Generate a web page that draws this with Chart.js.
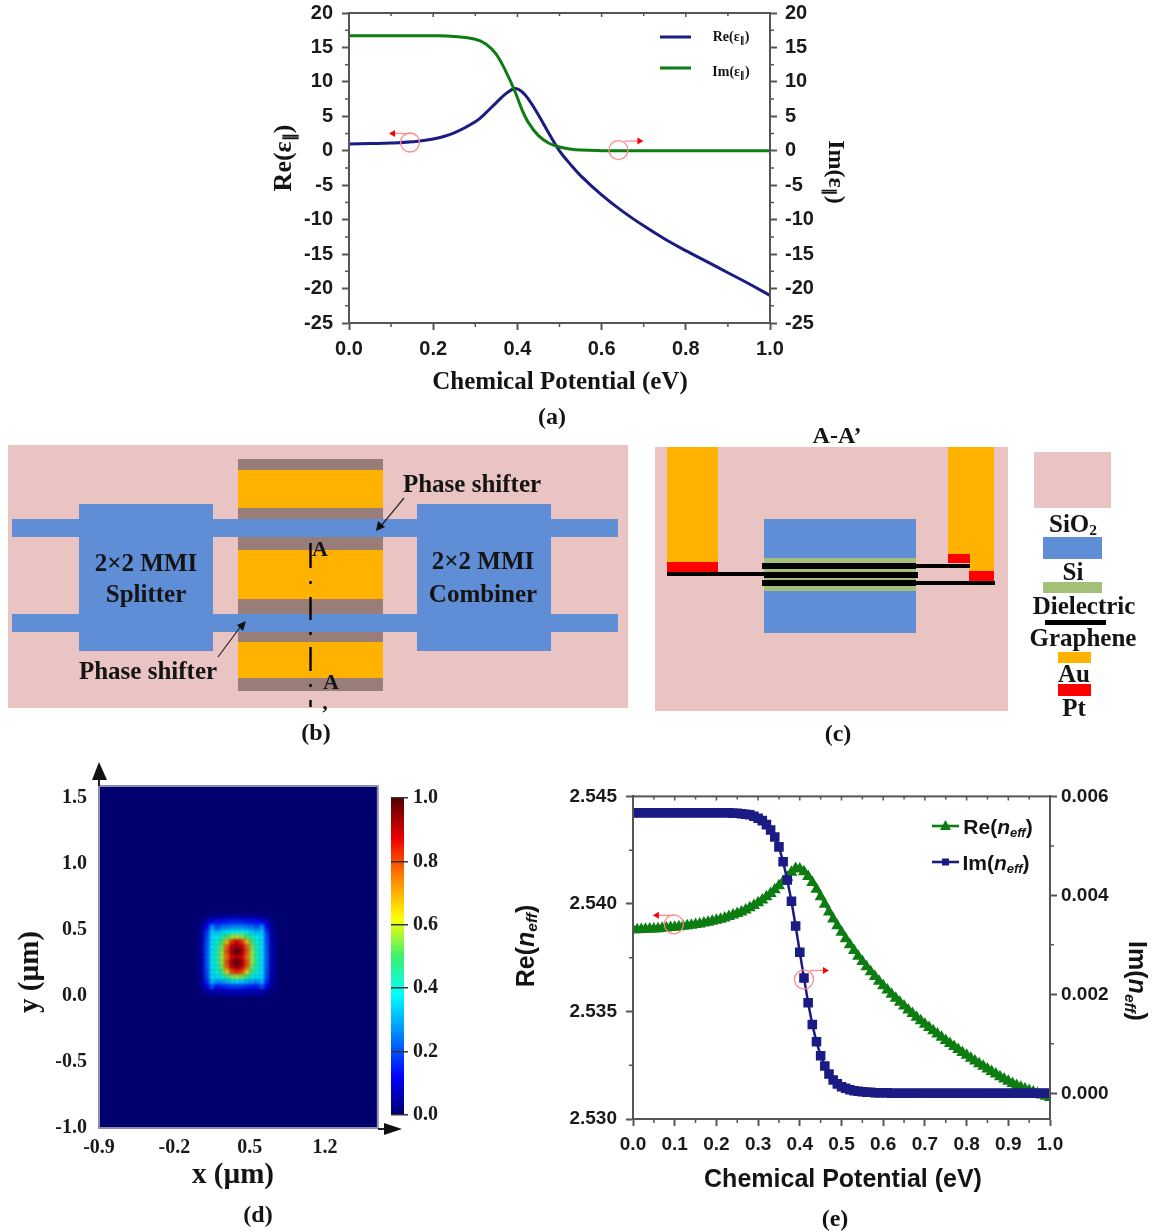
<!DOCTYPE html>
<html>
<head>
<meta charset="utf-8">
<title>Graphene phase shifter</title>
<script src="https://cdn.jsdelivr.net/npm/chart.js@4/dist/chart.umd.min.js"></script>
<style>
  html, body { margin: 0; padding: 0; background: #fff; }
  #stage { position: relative; width: 1156px; height: 1232px; overflow: hidden; }
  #stage canvas, #stage svg, .box, .txt { position: absolute; }
  .txt { white-space: nowrap; color: #141414; transform: translate(-50%, -50%); line-height: 1; }
  .serif { font-family: "Liberation Serif", serif; font-weight: bold; }
  .sans { font-family: "Liberation Sans", sans-serif; font-weight: bold; }
  .txt sub { font-size: 0.62em; vertical-align: -0.25em; line-height: 0; }
</style>
</head>
<body>
<div id="stage"></div>
<script>
// panel (a): permittivity against chemical potential
const potentialA = [0, 0.05, 0.1, 0.15, 0.2, 0.25, 0.3, 0.325, 0.35, 0.375, 0.395, 0.41, 0.425, 0.45, 0.475, 0.5, 0.525, 0.55, 0.6, 0.65, 0.7, 0.75, 0.8, 0.85, 0.9, 0.95, 1];
const rePermittivity = [1.0, 1.05, 1.12, 1.3, 1.7, 2.6, 4.2, 5.5, 7.0, 8.4, 9.05, 8.6, 7.6, 5.2, 2.5, 0, -1.9, -3.6, -6.4, -8.8, -10.9, -12.8, -14.5, -16.1, -17.7, -19.3, -21];
const imPermittivity = [16.7, 16.7, 16.7, 16.7, 16.7, 16.6, 16.2, 15.5, 14, 11.2, 8.5, 6.1, 4.2, 2.2, 1.1, 0.55, 0.25, 0.1, 0.02, 0, 0, 0, 0, 0, 0, 0, 0];
const ticksAX = [0, 0.2, 0.4, 0.6, 0.8, 1];
const ticksAY = [-25, -20, -15, -10, -5, 0, 5, 10, 15, 20];
const minorAX = [0.1, 0.3, 0.5, 0.7, 0.9];
const minorAY = [-22.5, -17.5, -12.5, -7.5, -2.5, 2.5, 7.5, 12.5, 17.5];

// panel (e): effective index, one marker each 0.01 eV
const potentialE = [0, 0.01, 0.02, 0.03, 0.04, 0.05, 0.06, 0.07, 0.08, 0.09, 0.1, 0.11, 0.12, 0.13, 0.14, 0.15, 0.16, 0.17, 0.18, 0.19, 0.2, 0.21, 0.22, 0.23, 0.24, 0.25, 0.26, 0.27, 0.28, 0.29, 0.3, 0.31, 0.32, 0.33, 0.34, 0.35, 0.36, 0.37, 0.38, 0.39, 0.4, 0.41, 0.42, 0.43, 0.44, 0.45, 0.46, 0.47, 0.48, 0.49, 0.5, 0.51, 0.52, 0.53, 0.54, 0.55, 0.56, 0.57, 0.58, 0.59, 0.6, 0.61, 0.62, 0.63, 0.64, 0.65, 0.66, 0.67, 0.68, 0.69, 0.7, 0.71, 0.72, 0.73, 0.74, 0.75, 0.76, 0.77, 0.78, 0.79, 0.8, 0.81, 0.82, 0.83, 0.84, 0.85, 0.86, 0.87, 0.88, 0.89, 0.9, 0.91, 0.92, 0.93, 0.94, 0.95, 0.96, 0.97, 0.98, 0.99, 1];
const reIndex = [2.5388, 2.5388, 2.53881, 2.53882, 2.53883, 2.53884, 2.53885, 2.53887, 2.53888, 2.5389, 2.53892,
  2.53894, 2.53896, 2.53898, 2.53901, 2.53904, 2.53907, 2.53911, 2.53915, 2.53919, 2.53924,
  2.53929, 2.53935, 2.53941, 2.53948, 2.53955, 2.53963, 2.53972, 2.53982, 2.53993, 2.54005,
  2.54018, 2.54033, 2.54049, 2.54066, 2.54085, 2.54104,
  2.54124, 2.54147, 2.54165, 2.54163, 2.5415, 2.54128, 2.541, 2.54068, 2.54033, 2.53998, 2.53963, 2.5393, 2.53898, 2.53868,
  2.53838, 2.5381, 2.53783, 2.53757, 2.53732, 2.53708, 2.53685, 2.53663, 2.53641, 2.5362,
  2.536, 2.5358, 2.53561, 2.53543, 2.53525, 2.53507, 2.5349, 2.53473, 2.53457, 2.53441,
  2.53425, 2.5341, 2.53395, 2.5338, 2.53365, 2.53351, 2.53337, 2.53323, 2.53309, 2.53296,
  2.53283, 2.5327, 2.53257, 2.53245, 2.53233, 2.53221, 2.53209, 2.53197, 2.53186, 2.53175,
  2.53165, 2.53156, 2.53148, 2.5314, 2.53132, 2.53125, 2.53118, 2.53112, 2.53106, 2.531];
const imIndex = [0.00567, 0.00567, 0.00567, 0.00567, 0.00567, 0.00567, 0.00567, 0.00567, 0.00567, 0.00567, 0.00567, 0.00567, 0.00567, 0.00567, 0.00567, 0.00567, 0.00567, 0.00567, 0.00567, 0.00567, 0.00567, 0.00567, 0.00567, 0.00567, 0.00566, 0.00566, 0.00565, 0.00564, 0.00563, 0.0056, 0.00556, 0.00551, 0.00543, 0.00532, 0.00518, 0.00498, 0.00468, 0.00431, 0.00388, 0.00338, 0.00285, 0.00233, 0.00183, 0.00139, 0.00104, 0.00076, 0.00055, 0.00039, 0.00027, 0.00019, 0.00013, 0.0001, 0.00007, 0.00005, 0.00004, 0.00003, 0.00002, 0.00002, 0.00001, 0.00001, 0.00001, 0.00001, 0, 0, 0, 0, 0, 0, 0, 0, 0, 0, 0, 0, 0, 0, 0, 0, 0, 0, 0, 0, 0, 0, 0, 0, 0, 0, 0, 0, 0, 0, 0, 0, 0, 0, 0, 0, 0, 0, 0];
const ticksEX = [0, 0.1, 0.2, 0.3, 0.4, 0.5, 0.6, 0.7, 0.8, 0.9, 1];
const ticksEY = [2.53, 2.535, 2.54, 2.545];
const ticksEY2 = [0, 0.002, 0.004, 0.006];
const minorEX = [0.05, 0.15, 0.25, 0.35, 0.45, 0.55, 0.65, 0.75, 0.85, 0.95];
const minorEY = [2.5325, 2.5375, 2.5425];
const minorEY2 = [0.001, 0.003, 0.005];

// panel (d): mode field, only the part around the waveguide, rest of the plot is ~0
const fieldX = [0.06, 0.106, 0.153, 0.199, 0.246, 0.292, 0.339, 0.385, 0.432, 0.478, 0.525, 0.571, 0.618, 0.664, 0.711];
const fieldY = [0.594, 0.556, 0.518, 0.48, 0.443, 0.405, 0.367, 0.329, 0.291, 0.254, 0.216, 0.178, 0.14, 0.102, 0.065, 0.027];
const fieldRows = [
  [.01, .02, .03, .04, .04, .05, .05, .05, .05, .05, .04, .04, .03, .02, .01],
  [.02, .06, .12, .14, .14, .15, .16, .16, .16, .15, .14, .14, .12, .06, .02],
  [.03, .12, .28, .20, .24, .25, .27, .27, .27, .25, .24, .20, .28, .12, .03],
  [.04, .17, .34, .31, .34, .37, .39, .39, .39, .37, .34, .31, .34, .17, .04],
  [.04, .19, .36, .38, .44, .50, .56, .58, .56, .50, .44, .38, .36, .19, .04],
  [.05, .20, .36, .41, .50, .68, .82, .88, .82, .68, .50, .41, .36, .20, .05],
  [.05, .21, .37, .43, .54, .78, .90, .94, .90, .78, .54, .43, .37, .21, .05],
  [.05, .21, .37, .44, .56, .80, .92, 1.0, .92, .80, .56, .44, .37, .21, .05],
  [.05, .21, .37, .44, .56, .76, .88, .90, .88, .76, .56, .44, .37, .21, .05],
  [.05, .21, .37, .44, .56, .80, .92, 1.0, .92, .80, .56, .44, .37, .21, .05],
  [.05, .21, .37, .43, .54, .78, .90, .94, .90, .78, .54, .43, .37, .21, .05],
  [.05, .20, .36, .41, .48, .66, .80, .84, .80, .66, .48, .41, .36, .20, .05],
  [.04, .19, .36, .36, .41, .47, .54, .56, .54, .47, .41, .36, .36, .19, .04],
  [.04, .16, .32, .27, .29, .31, .34, .35, .34, .31, .29, .27, .32, .16, .04],
  [.03, .10, .21, .14, .15, .16, .18, .18, .18, .16, .15, .14, .21, .10, .03],
  [.01, .03, .05, .05, .05, .06, .06, .06, .06, .06, .05, .05, .05, .03, .01]
];
const ticksDX = [-0.9, -0.2, 0.5, 1.2];
const ticksDY = [-1, -0.5, 0, 0.5, 1, 1.5];
const colorbarTop = [1];
const ticksBar = [0, 0.2, 0.4, 0.6, 0.8, 1];
const jetLevels = [0, 0.12, 0.25, 0.38, 0.5, 0.62, 0.75, 0.87, 1];
const jetColors = [[0, 0, 110], [0, 0, 255], [0, 130, 255], [0, 255, 255], [60, 240, 110], [255, 255, 0], [255, 130, 0], [240, 0, 0], [85, 0, 0]];

const stage = document.getElementById('stage');
const BLUE = '#1b1b84', GREEN = '#0d7d12', AXIS = '#555';
const PINK = '#eac3c3', SI = '#608ed6', GOLD = '#ffb300', BROWN = '#987d79', DIEL = '#a3bf78', PT = '#ff0000';

function colorAt(v) {  // jet colour of a field value
  let i = 0;
  while (i < jetLevels.length - 2 && v > jetLevels[i + 1]) i++;
  const t = Math.min(1, (v - jetLevels[i]) / (jetLevels[i + 1] - jetLevels[i]));
  const c = jetColors[i].map((a, k) => Math.round(a + (jetColors[i + 1][k] - a) * t));
  return 'rgb(' + c.join(',') + ')';
}

function addCanvas(left, top, width, height) {
  const c = document.createElement('canvas');
  c.width = width; c.height = height;
  c.style.left = left + 'px'; c.style.top = top + 'px';
  c.style.width = width + 'px'; c.style.height = height + 'px';
  stage.appendChild(c);
  return c;
}

function box(x0, y0, x1, y1, color) {
  const d = document.createElement('div');
  d.className = 'box';
  d.style.cssText = 'left:' + x0 + 'px;top:' + y0 + 'px;width:' + (x1 - x0) + 'px;height:' + (y1 - y0) + 'px;background:' + color;
  stage.appendChild(d);
}

function label(html, cx, cy, cls, size, rotate) {
  const d = document.createElement('div');
  d.className = 'txt ' + cls;
  d.innerHTML = html;
  d.style.left = cx + 'px'; d.style.top = cy + 'px'; d.style.fontSize = size + 'px';
  if (rotate) d.style.transform = 'translate(-50%, -50%) rotate(' + rotate + 'deg)';
  stage.appendChild(d);
}

// frame, minor ticks and the red "which axis" callouts
const panelExtras = {
  id: 'panelExtras',
  beforeDatasetsDraw(chart, args, opts) {
    if (!opts.fill) return;
    const a = chart.chartArea;
    chart.ctx.fillStyle = opts.fill;
    chart.ctx.fillRect(a.left, a.top, a.width, a.height);
  },
  afterDatasetsDraw(chart, args, opts) {
    const ctx = chart.ctx, a = chart.chartArea;
    ctx.save();
    if (opts.frame) {
      ctx.strokeStyle = opts.frame; ctx.lineWidth = 2;
      ctx.strokeRect(a.left, a.top, a.width, a.height);
    }
    ctx.strokeStyle = AXIS; ctx.lineWidth = 1.5;
    ctx.beginPath();
    (opts.minorX || []).forEach(v => {
      const x = chart.scales.x.getPixelForValue(v);
      ctx.moveTo(x, a.bottom); ctx.lineTo(x, a.bottom + 4);
      ctx.moveTo(x, a.top); ctx.lineTo(x, a.top + 3);
    });
    (opts.topX || []).forEach(v => {
      const x = chart.scales.x.getPixelForValue(v);
      ctx.moveTo(x, a.top); ctx.lineTo(x, a.top + 4);
    });
    (opts.minorY || []).forEach(v => {
      const y = chart.scales.y.getPixelForValue(v);
      ctx.moveTo(a.left, y); ctx.lineTo(a.left - 4, y);
    });
    (opts.minorY2 || []).forEach(v => {
      const y = chart.scales.y2.getPixelForValue(v);
      ctx.moveTo(a.right, y); ctx.lineTo(a.right + 4, y);
    });
    ctx.stroke();
    (opts.callouts || []).forEach(c => {
      const x = chart.scales.x.getPixelForValue(c.x), y = chart.scales[c.axis].getPixelForValue(c.y);
      ctx.strokeStyle = '#ff8a8a'; ctx.lineWidth = 1.3;
      ctx.beginPath(); ctx.arc(x, y, 9.5, 0, Math.PI * 2); ctx.stroke();
      const y0 = y - 9, tip = x + c.dir * (c.dir > 0 ? 23 : 19);
      ctx.beginPath(); ctx.moveTo(x + (c.dir > 0 ? 6 : 0), y0); ctx.lineTo(tip, y0); ctx.stroke();
      ctx.fillStyle = '#f00';
      ctx.beginPath(); ctx.moveTo(tip + c.dir * 2, y0); ctx.lineTo(tip - c.dir * 4, y0 - 3.5); ctx.lineTo(tip - c.dir * 4, y0 + 3.5); ctx.fill();
    });
    ctx.restore();
  }
};

// the field map in the reference is smooth, soften the cells while they are drawn
const softCells = {
  id: 'softCells',
  beforeDatasetDraw(chart) { chart.ctx.save(); chart.ctx.filter = 'blur(1.6px)'; },
  afterDatasetDraw(chart) { chart.ctx.restore(); }
};

function axis(position, min, max, tickList, digits, size, padding, extra) {
  return Object.assign({
    type: 'linear', position: position, min: min, max: max,
    afterBuildTicks: s => { s.ticks = tickList.map(v => ({ value: v })); },
    ticks: {
      autoSkip: false, maxRotation: 0, padding: padding, color: '#1a1a1a',
      font: { family: 'Liberation Sans', weight: 'bold', size: size },
      callback: v => digits ? Number(v).toFixed(digits) : String(v)
    },
    grid: { drawOnChartArea: false, tickLength: 7, tickWidth: 2, tickColor: AXIS },
    border: { color: AXIS, width: 2 }
  }, extra);
}

const baseOptions = { responsive: false, animation: false, events: [] };

// ---- panel (a)
// the y scale keeps label height + tick padding free on top, so the canvas starts above the page edge
new Chart(addCanvas(289, -8, 541, 378), {
  type: 'line',
  data: {
    labels: potentialA,
    datasets: [
      { label: 'Im', data: potentialA.map((x, i) => ({ x: x, y: imPermittivity[i] })), yAxisID: 'y2', borderColor: GREEN, borderWidth: 3, pointRadius: 0, tension: 0.4 },
      { label: 'Re', data: potentialA.map((x, i) => ({ x: x, y: rePermittivity[i] })), yAxisID: 'y', borderColor: BLUE, borderWidth: 3, pointRadius: 0, tension: 0.4 }
    ]
  },
  options: Object.assign({}, baseOptions, {
    plugins: {
      legend: { display: false }, tooltip: { enabled: false },
      panelExtras: {
        frame: AXIS, minorX: minorAX, topX: ticksAX, minorY: minorAY, minorY2: minorAY,
        callouts: [{ x: 0.145, y: 1.2, axis: 'y', dir: -1 }, { x: 0.64, y: 0.1, axis: 'y2', dir: 1 }]
      }
    },
    scales: {
      x: axis('bottom', 0, 1, ticksAX, 1, 20, 7, { afterFit: s => { s.height = 47; } }),
      y: axis('left', -25, 20, ticksAY, 0, 20, 9, { afterFit: s => { s.width = 60; } }),
      y2: axis('right', -25, 20, ticksAY, 0, 20, 8, { afterFit: s => { s.width = 60; } })
    }
  }),
  plugins: [panelExtras]
});

// ---- panel (e)
new Chart(addCanvas(563, 776, 567, 384), {
  type: 'line',
  data: {
    labels: potentialE,
    datasets: [
      { label: 'Im', data: potentialE.map((x, i) => ({ x: x, y: imIndex[i] })), yAxisID: 'y2', borderColor: BLUE, backgroundColor: BLUE, borderWidth: 2.5, pointStyle: 'rect', pointRadius: 5, tension: 0 },
      { label: 'Re', data: potentialE.map((x, i) => ({ x: x, y: reIndex[i] })), yAxisID: 'y', borderColor: GREEN, backgroundColor: GREEN, borderWidth: 2, pointStyle: 'triangle', pointRadius: 5, tension: 0 }
    ]
  },
  options: Object.assign({}, baseOptions, {
    plugins: {
      legend: { display: false }, tooltip: { enabled: false },
      panelExtras: {
        frame: AXIS, minorX: minorEX, topX: ticksEX, minorY: minorEY, minorY2: minorEY2,
        callouts: [{ x: 0.098, y: 2.53905, axis: 'y', dir: -1 }, { x: 0.41, y: 0.0023, axis: 'y2', dir: 1 }]
      }
    },
    scales: {
      x: axis('bottom', 0, 1, ticksEX, 1, 19, 7, { afterFit: s => { s.height = 41; } }),
      y: axis('left', 2.53, 2.545, ticksEY, 3, 19, 9, { afterFit: s => { s.width = 70; } }),
      y2: axis('right', -0.00052, 0.006, ticksEY2, 3, 19, 4, { afterFit: s => { s.width = 80; } })
    }
  }),
  plugins: [panelExtras]
});

// ---- panel (d) field map
const cells = [], cellColors = [];
fieldRows.forEach((row, r) => row.forEach((v, c) => {
  cells.push({ x: fieldX[c], y: fieldY[r] });
  cellColors.push(colorAt(v));
}));
const serifTicks = { family: 'Liberation Serif', weight: 'bold', size: 20 };
new Chart(addCanvas(39, 762, 343, 408), {
  type: 'scatter',
  data: { datasets: [{ data: cells, pointStyle: 'rect', pointRadius: 4.2, pointBorderWidth: 0, pointBackgroundColor: cellColors }] },
  options: Object.assign({}, baseOptions, {
    layout: { padding: { right: 1 } },
    plugins: {
      legend: { display: false }, tooltip: { enabled: false },
      panelExtras: { fill: '#00006e', frame: '#8e8eb4' }
    },
    scales: {
      x: axis('bottom', -0.9, 1.69, ticksDX, 1, 20, 9, {
        afterFit: s => { s.height = 42; },
        ticks: { autoSkip: false, maxRotation: 0, padding: 8, color: '#1a1a1a', font: serifTicks, callback: v => Number(v).toFixed(1) },
        grid: { display: true, drawOnChartArea: false, drawTicks: false },
        border: { color: '#222', width: 2 }
      }),
      y: axis('left', -1, 1.59, ticksDY, 1, 20, 12, {
        afterFit: s => { s.width = 60; },
        ticks: { autoSkip: false, maxRotation: 0, padding: 12, color: '#1a1a1a', font: serifTicks, callback: v => Number(v).toFixed(1) },
        grid: { display: true, drawOnChartArea: false, drawTicks: false },
        border: { color: '#8e8eb4', width: 2 }
      })
    }
  }),
  plugins: [panelExtras, softCells]
});

// ---- panel (d) colour bar
new Chart(addCanvas(381, 781, 70, 351), {
  type: 'bar',
  data: {
    labels: ['field'],
    datasets: [{
      data: colorbarTop, barPercentage: 1, categoryPercentage: 1,
      backgroundColor: ctx => {
        const a = ctx.chart.chartArea;
        if (!a) return colorAt(0);
        const g = ctx.chart.ctx.createLinearGradient(0, a.bottom, 0, a.top);
        jetLevels.forEach((lv, i) => g.addColorStop(lv, colorAt(lv)));
        return g;
      }
    }]
  },
  options: Object.assign({}, baseOptions, {
    layout: { padding: { top: 11, bottom: 16, left: 10 } },
    plugins: { legend: { display: false }, tooltip: { enabled: false } },
    scales: {
      x: { display: false },
      y: {
        type: 'linear', position: 'right', min: 0, max: 1,
        afterBuildTicks: s => { s.ticks = ticksBar.map(v => ({ value: v })); },
        afterFit: s => { s.width = 47; },
        ticks: { padding: 5, color: '#1a1a1a', font: serifTicks, callback: v => Number(v).toFixed(1) },
        grid: { z: 1, color: '#333', tickColor: '#333', tickLength: 4, lineWidth: 1.5 },
        border: { display: false }
      }
    }
  })
});

// ---- schematic (b)
box(8, 445, 628, 708, PINK);
box(238, 459, 383, 691, BROWN);
box(238, 470, 383, 508, GOLD);
box(238, 550, 383, 599, GOLD);
box(238, 642, 383, 678, GOLD);
box(12, 519, 618, 537, SI);
box(12, 614, 618, 632, SI);
box(79, 504, 213, 651, SI);
box(417, 504, 551, 651, SI);

// ---- schematic (c)
box(655, 447, 1008, 711, PINK);
box(667, 447, 718, 562, GOLD);
box(948, 447, 994, 554, GOLD);
box(969, 554, 994, 571, GOLD);
box(667, 562, 718, 572, PT);
box(948, 554, 970, 563, PT);
box(969, 571, 994, 581, PT);
box(764, 519, 916, 558, SI);
box(764, 591, 916, 633, SI);
box(764, 558, 916, 591, DIEL);
box(764, 564, 970, 568, '#000');
box(667, 572, 918, 576, '#000');
box(764, 581, 995, 585, '#000');
box(762, 563, 916, 569, '#000');
box(764, 572, 918, 578, '#000');
box(762, 580, 916, 586, '#000');

// legend of the schematic
box(1034, 452, 1111, 508, PINK);
box(1043, 537, 1102, 559, SI);
box(1043, 582, 1102, 593, DIEL);
box(1045, 620, 1106, 625, '#000');
box(1058, 652, 1091, 663, GOLD);
box(1058, 684, 1091, 696, PT);

// arrows, section line and plot arrows of (d)
const svg = document.createElementNS('http://www.w3.org/2000/svg', 'svg');
svg.setAttribute('width', 1156); svg.setAttribute('height', 1232);
svg.style.left = '0'; svg.style.top = '0';
svg.innerHTML =
  '<g stroke="#222" stroke-width="1.2"><line x1="404" y1="498" x2="381" y2="526"/><line x1="218" y1="657" x2="241" y2="626"/></g>' +
  '<polygon points="376,531 378,521 385,527" fill="#111"/><polygon points="246,621 237,625 243,631" fill="#111"/>' +
  '<g stroke="#000" stroke-width="2.4"><line x1="310.5" y1="543" x2="310.5" y2="568"/><line x1="310.5" y1="581" x2="310.5" y2="584"/>' +
  '<line x1="310.5" y1="597" x2="310.5" y2="620"/><line x1="310.5" y1="632" x2="310.5" y2="635"/><line x1="310.5" y1="647" x2="310.5" y2="671"/>' +
  '<line x1="310.5" y1="684" x2="310.5" y2="687"/><line x1="310.5" y1="700" x2="310.5" y2="707"/></g>' +
  '<polygon points="99,762 92,780 107,780" fill="#111"/><polygon points="402,1129 384,1123 384,1135" fill="#111"/>' +
  '<line x1="99" y1="780" x2="99" y2="786" stroke="#222" stroke-width="2"/><line x1="378" y1="1129" x2="384" y2="1129" stroke="#222" stroke-width="2"/>' +
  '<line x1="660" y1="37" x2="691" y2="37" stroke="' + BLUE + '" stroke-width="3"/><line x1="660" y1="68" x2="691" y2="68" stroke="' + GREEN + '" stroke-width="3"/>' +
  '<line x1="932" y1="826" x2="959" y2="826" stroke="' + GREEN + '" stroke-width="2.6"/><polygon points="945.5,820 940,830 951,830" fill="' + GREEN + '"/>' +
  '<line x1="932" y1="862" x2="959" y2="862" stroke="' + BLUE + '" stroke-width="2.6"/><rect x="942" y="858.5" width="7" height="7" fill="' + BLUE + '"/>';
stage.appendChild(svg);

// ---- texts
label('Chemical Potential (eV)', 560, 380, 'serif', 25);
label('Re(&epsilon;<sub>&#8741;</sub>)', 283, 158, 'serif', 26, -90);
label('Im(&epsilon;<sub>&#8741;</sub>)', 837, 172, 'serif', 24, 90);
label('Re(&epsilon;<sub>&#8741;</sub>)', 731, 37, 'serif', 14);
label('Im(&epsilon;<sub>&#8741;</sub>)', 731, 72, 'serif', 14);
label('(a)', 552, 416, 'serif', 24);

label('2&times;2 MMI', 146, 562, 'serif', 25);
label('Splitter', 146, 593, 'serif', 25);
label('2&times;2 MMI', 483, 560, 'serif', 25);
label('Combiner', 483, 593, 'serif', 25);
label('Phase shifter', 472, 483, 'serif', 25);
label('Phase shifter', 148, 670, 'serif', 25);
label('A', 320, 549, 'serif', 22);
label('A', 331, 682, 'serif', 22);
label(',', 325, 702, 'serif', 22);
label('(b)', 316, 732, 'serif', 24);

label('A-A&rsquo;', 837, 435, 'serif', 24);
label('(c)', 838, 733, 'serif', 24);
label('SiO<sub>2</sub>', 1073, 523, 'serif', 25);
label('Si', 1073, 571, 'serif', 25);
label('Dielectric', 1084, 605, 'serif', 25);
label('Graphene', 1083, 637, 'serif', 25);
label('Au', 1074, 673, 'serif', 25);
label('Pt', 1074, 707, 'serif', 25);

label('y (&micro;m)', 28, 972, 'serif', 29, -90);
label('x (&micro;m)', 233, 1173, 'serif', 29);
label('(d)', 258, 1214, 'serif', 24);

label('Re(<i>n<sub>eff</sub></i>)', 525, 946, 'sans', 25, -90);
label('Im(<i>n<sub>eff</sub></i>)', 1137, 981, 'sans', 25, 90);
label('Chemical Potential (eV)', 843, 1178, 'sans', 25);
label('Re(<i>n<sub>eff</sub></i>)', 998, 826, 'sans', 21);
label('Im(<i>n<sub>eff</sub></i>)', 996, 862, 'sans', 21);
label('(e)', 835, 1218, 'serif', 24);
</script>
</body>
</html>
